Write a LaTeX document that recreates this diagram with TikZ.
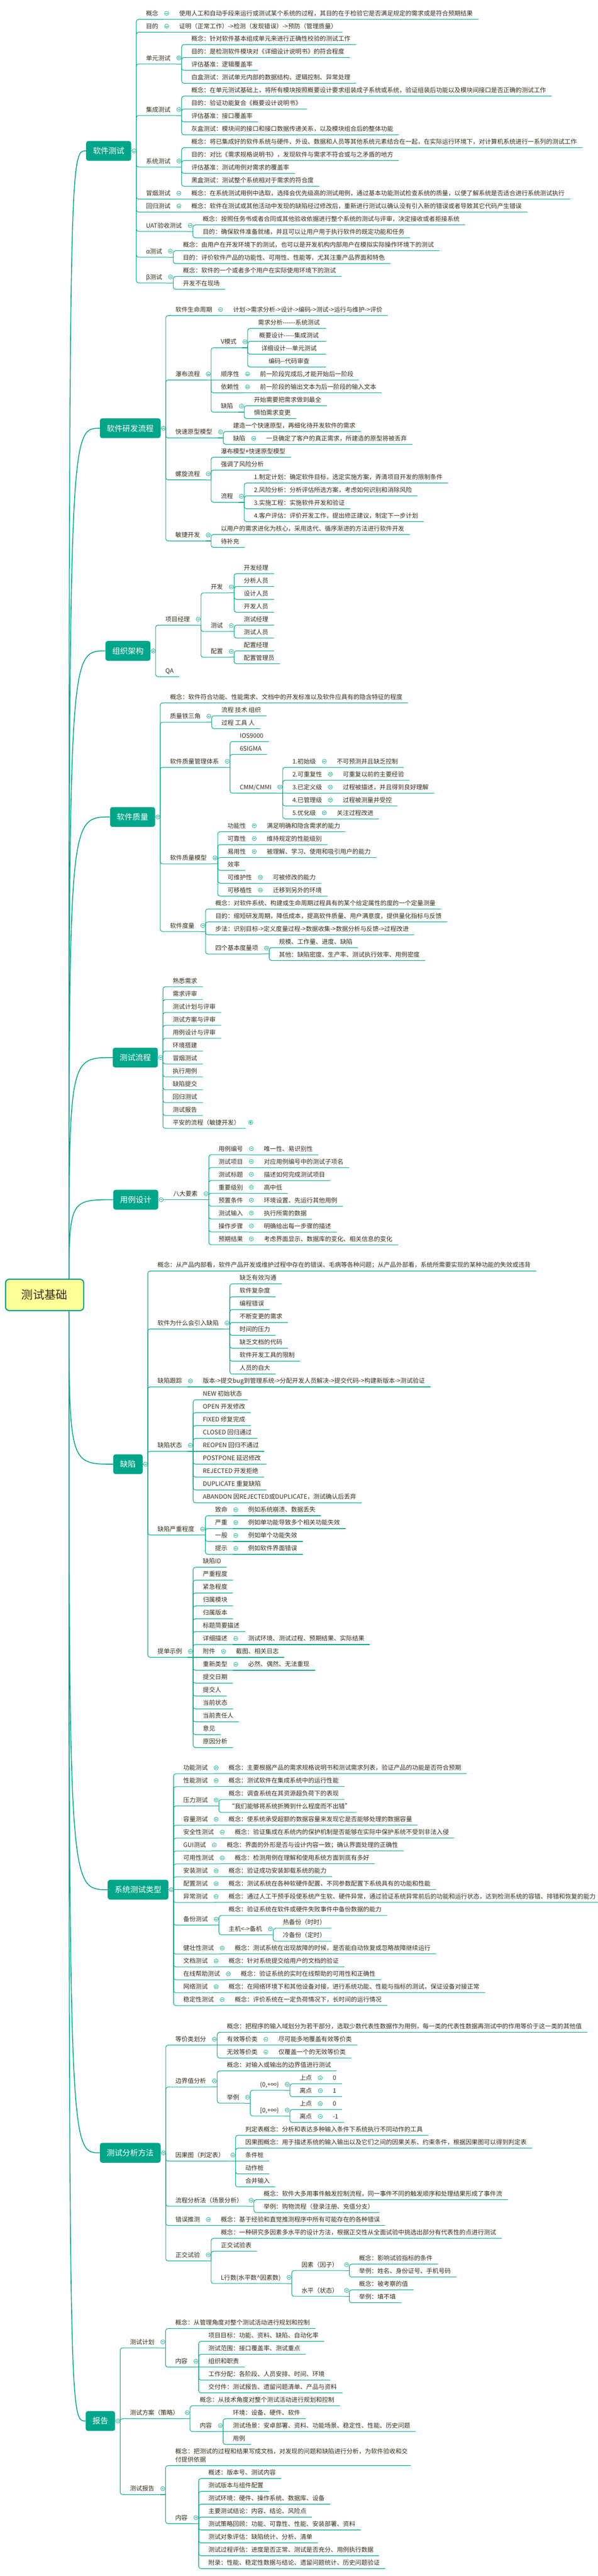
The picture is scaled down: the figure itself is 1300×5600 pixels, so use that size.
\documentclass[tikz,border=0pt]{standalone}
\usepackage{fontspec}
\setmainfont{Noto Sans CJK SC}
\usetikzlibrary{calc}
\definecolor{mint}{RGB}{0,166,138}
\definecolor{ink}{RGB}{52,46,30}
\definecolor{cream}{RGB}{255,255,153}
\pgfdeclarelayer{back}
\pgfsetlayers{back,main}

\newcommand\fold[1]{\draw[ln] (#1.south east) -- ([xshift=12pt]#1.south east) coordinate (#1-b);
	\node[fold] (#1-f) at ([xshift=6pt,yshift=13pt]#1.south east) {};}
\newcommand\foldbox[1]{\draw[ln] (#1.east) -- ([xshift=11pt]#1.east) coordinate (#1-b);
	\node[fold] (#1-f) at ([xshift=6pt]#1.east) {};}
\newcommand\kid[5][]{\node[lf,#1] (#3) at (#2-b |- 0,#4) {#5};
	\draw[ln] (#2-b) |- (#3.south east);}
\newcommand\same[5][]{\node[lf,#1] (#3) at (#2-b |- 0,#4) {#5};
	\draw[ln] (#2-b) -- (#3.south east);}

\begin{document}
\begin{tikzpicture}[x=1pt,y=-1pt]

	\tikzset{
		ln/.style={mint, line width=1.2pt, rounded corners=5pt},
		lf/.style={anchor=south west, inner xsep=12pt, inner ysep=0pt, xshift=9pt,
			text depth=7.7pt, text=ink, font=\fontsize{13.3}{18}\selectfont},
		bx/.style={anchor=west, fill=mint, text=white, rounded corners=5pt,
			inner xsep=15pt, minimum height=43pt, font=\fontsize{17}{20}\selectfont},
		fold/.style={circle, draw=mint, fill=white, line width=0.8pt, minimum size=9pt,
			inner sep=0pt, path picture={\draw[mint,line width=0.8pt]
				([xshift=-2.5pt]path picture bounding box.center) --
				([xshift=2.5pt]path picture bounding box.center);}},
		foldp/.style={circle, draw=mint, fill=white, line width=0.8pt, minimum size=9pt,
			inner sep=0pt, path picture={\draw[mint,line width=0.8pt]
				([xshift=-2.5pt]path picture bounding box.center) --
				([xshift=2.5pt]path picture bounding box.center)
				([yshift=-2.5pt]path picture bounding box.center) --
				([yshift=2.5pt]path picture bounding box.center);}},
		limb/.style={mint, line width=1.8pt},
		rootbox/.style={draw=mint, line width=2.5pt, fill=cream, rounded corners=8pt,
			minimum width=170pt, minimum height=68pt, text=ink,
			font=\fontsize{25}{30}\selectfont}
	}
	\useasboundingbox (0,0) rectangle (1300,5600);
	\begin{pgfonlayer}{back}
		\fill[white] (0,0) rectangle (1300,5600);
	\end{pgfonlayer}

	\node[rootbox] (root) at (97,2815) {测试基础};
	\coordinate (root-o) at ([xshift=53pt]root.center);

	% 软件测试
	\node[bx] (st) at (187,328) {软件测试}; \foldbox{st}
	\kid{st}{st1}{42}{概念} \fold{st1}
	\same{st1}{st1a}{42}{使用人工和自动手段来运行或测试某个系统的过程，其目的在于检验它是否满足规定的需求或是符合预期结果}
	\kid{st}{st2}{70}{目的} \fold{st2}
	\same{st2}{st2a}{70}{证明（正常工作）->检测（发现错误）->预防（管理质量）}
	\kid{st}{st3}{139}{单元测试} \fold{st3}
	\kid{st3}{st3a}{97}{概念：针对软件基本组成单元来进行正确性校验的测试工作}
	\kid{st3}{st3b}{125}{目的：是检测软件模块对《详细设计说明书》的符合程度}
	\kid{st3}{st3c}{153}{评估基准：逻辑覆盖率}
	\kid{st3}{st3d}{181}{白盒测试：测试单元内部的数据结构、逻辑控制、异常处理}
	\kid{st}{st4}{251}{集成测试} \fold{st4}
	\kid{st4}{st4a}{209}{概念：在单元测试基础上，将所有模块按照概要设计要求组装成子系统或系统，验证组装后功能以及模块间接口是否正确的测试工作}
	\kid{st4}{st4b}{237}{目的：验证功能复合《概要设计说明书》}
	\kid{st4}{st4c}{265}{评估基准：接口覆盖率}
	\kid{st4}{st4d}{293}{灰盒测试：模块间的接口和接口数据传递关系，以及模块组合后的整体功能}
	\kid{st}{st5}{363}{系统测试} \fold{st5}
	\kid{st5}{st5a}{321}{概念：将已集成好的软件系统与硬件、外设、数据和人员等其他系统元素结合在一起，在实际运行环境下，对计算机系统进行一系列的测试工作}
	\kid{st5}{st5b}{349}{目的：对比《需求规格说明书》，发现软件与需求不符合或与之矛盾的地方}
	\kid{st5}{st5c}{377}{评估基准：测试用例对需求的覆盖率}
	\kid{st5}{st5d}{405}{黑盒测试：测试整个系统相对于需求的符合度}
	\kid{st}{st6}{433}{冒烟测试} \fold{st6}
	\same{st6}{st6a}{433}{概念：在系统测试用例中选取，选择会优先级高的测试用例，通过基本功能测试检查系统的质量，以便了解系统是否适合进行系统测试执行}
	\kid{st}{st7}{461}{回归测试} \fold{st7}
	\same{st7}{st7a}{461}{概念：软件在测试或其他活动中发现的缺陷经过修改后，重新进行测试以确认没有引入新的错误或者导致其它代码产生错误}
	\kid{st}{st8}{503}{UAT验收测试} \fold{st8}
	\kid{st8}{st8a}{489}{概念：按照任务书或者合同或其他验收依据进行整个系统的测试与评审，决定接收或者拒接系统}
	\kid{st8}{st8b}{517}{目的：确保软件准备就绪，并且可以让用户用于执行软件的既定功能和任务}
	\kid{st}{st9}{559}{α测试} \fold{st9}
	\kid{st9}{st9a}{545}{概念：由用户在开发环境下的测试，也可以是开发机构内部用户在模拟实际操作环境下的测试}
	\kid{st9}{st9b}{573}{目的：评价软件产品的功能性、可用性、性能等，尤其注重产品界面和特色}
	\kid{st}{st10}{615}{β测试} \fold{st10}
	\kid{st10}{st10a}{601}{概念：软件的一个或者多个用户在实际使用环境下的测试}
	\kid{st10}{st10b}{629}{开发不在现场}

	% 软件研发流程
	\node[bx] (yf) at (217,931) {软件研发流程}; \foldbox{yf}
	\kid{yf}{yf1}{686}{软件生命周期} \fold{yf1}
	\same{yf1}{yf1a}{686}{计划->需求分析->设计->编码->测试->运行与维护->评价}
	\kid{yf}{yf2}{826}{瀑布流程} \fold{yf2}
	\kid{yf2}{yf2a}{756}{V模式} \fold{yf2a}
	\kid[text width=137pt,align=center]{yf2a}{yf2a1}{714}{需求分析-{}-{}-{}-{}-{}-系统测试}
	\kid[text width=137pt,align=center]{yf2a}{yf2a2}{742}{概要设计-{}-{}-{}-{}-集成测试}
	\kid[text width=137pt,align=center]{yf2a}{yf2a3}{770}{详细设计-{}-{}-单元测试}
	\kid[text width=137pt,align=center]{yf2a}{yf2a4}{798}{编码-{}-代码审查}
	\same{yf2}{yf2b}{826}{顺序性} \fold{yf2b}
	\same{yf2b}{yf2b1}{826}{前一阶段完成后,才能开始后一阶段}
	\kid{yf2}{yf2c}{854}{依赖性} \fold{yf2c}
	\same{yf2c}{yf2c1}{854}{前一阶段的输出文本为后一阶段的输入文本}
	\kid{yf2}{yf2d}{896}{缺陷} \fold{yf2d}
	\kid{yf2d}{yf2d1}{882}{开始需要把需求做到最全}
	\kid{yf2d}{yf2d2}{910}{惧怕需求变更}
	\kid{yf}{yf3}{952}{快速原型模型} \fold{yf3}
	\kid{yf3}{yf3a}{938}{建造一个快速原型，再细化待开发软件的需求}
	\kid{yf3}{yf3b}{966}{缺陷} \fold{yf3b}
	\same{yf3b}{yf3b1}{966}{一旦确定了客户的真正需求，所建造的原型将被丢弃}
	\kid{yf}{yf4}{1043}{螺旋流程} \fold{yf4}
	\kid{yf4}{yf4a}{994}{瀑布模型+快速原型模型}
	\kid{yf4}{yf4b}{1022}{强调了风险分析}
	\kid{yf4}{yf4c}{1092}{流程} \fold{yf4c}
	\kid{yf4c}{yf4c1}{1050}{1.制定计划：确定软件目标，选定实施方案，弄清项目开发的限制条件}
	\kid{yf4c}{yf4c2}{1078}{2.风险分析：分析评估所选方案，考虑如何识别和消除风险}
	\kid{yf4c}{yf4c3}{1106}{3.实施工程：实施软件开发和验证}
	\kid{yf4c}{yf4c4}{1134}{4.客户评估：评价开发工作，提出修正建议，制定下一步计划}
	\kid{yf}{yf5}{1176}{敏捷开发} \fold{yf5}
	\kid{yf5}{yf5a}{1162}{以用户的需求进化为核心，采用迭代、循序渐进的方法进行软件开发}
	\kid{yf5}{yf5b}{1190}{待补充}

	% 组织架构
	\node[bx] (zz) at (229,1415) {组织架构}; \foldbox{zz}
	\kid{zz}{zz1}{1359}{项目经理} \fold{zz1}
	\kid{zz1}{zz1a}{1289}{开发} \fold{zz1a}
	\kid{zz1a}{zz1a1}{1247}{开发经理}
	\kid{zz1a}{zz1a2}{1275}{分析人员}
	\kid{zz1a}{zz1a3}{1303}{设计人员}
	\kid{zz1a}{zz1a4}{1331}{开发人员}
	\kid{zz1}{zz1b}{1373}{测试} \fold{zz1b}
	\kid{zz1b}{zz1b1}{1359}{测试经理}
	\kid{zz1b}{zz1b2}{1387}{测试人员}
	\kid{zz1}{zz1c}{1429}{配置} \fold{zz1c}
	\kid{zz1c}{zz1c1}{1415}{配置经理}
	\kid{zz1c}{zz1c2}{1443}{配置管理员}
	\kid{zz}{zz2}{1471}{QA}

	% 软件质量
	\node[bx] (zl) at (239,1776) {软件质量}; \foldbox{zl}
	\kid{zl}{zl1}{1528}{概念：软件符合功能、性能需求、文档中的开发标准以及软件应具有的隐含特征的程度}
	\kid{zl}{zl2}{1570}{质量铁三角} \fold{zl2}
	\kid{zl2}{zl2a}{1556}{流程 技术 组织}
	\kid{zl2}{zl2b}{1584}{过程 工具 人}
	\kid{zl}{zl3}{1668}{软件质量管理体系} \fold{zl3}
	\kid{zl3}{zl3a}{1612}{IOS9000}
	\kid{zl3}{zl3b}{1640}{6SIGMA}
	\kid{zl3}{zl3c}{1724}{CMM/CMMI} \fold{zl3c}
	\kid{zl3c}{zl3c1}{1668}{1.初始级} \fold{zl3c1}
	\same{zl3c1}{zl3c1a}{1668}{不可预测并且缺乏控制}
	\kid{zl3c}{zl3c2}{1696}{2.可重复性} \fold{zl3c2}
	\same{zl3c2}{zl3c2a}{1696}{可重复以前的主要经验}
	\same{zl3c}{zl3c3}{1724}{3.已定义级} \fold{zl3c3}
	\same{zl3c3}{zl3c3a}{1724}{过程被描述，并且得到良好理解}
	\kid{zl3c}{zl3c4}{1752}{4.已管理级} \fold{zl3c4}
	\same{zl3c4}{zl3c4a}{1752}{过程被测量并受控}
	\kid{zl3c}{zl3c5}{1780}{5.优化级} \fold{zl3c5}
	\same{zl3c5}{zl3c5a}{1780}{关注过程改进}
	\kid{zl}{zl4}{1878}{软件质量模型} \fold{zl4}
	\kid{zl4}{zl4a}{1808}{功能性} \fold{zl4a}
	\same{zl4a}{zl4a1}{1808}{满足明确和隐含需求的能力}
	\kid{zl4}{zl4b}{1836}{可靠性} \fold{zl4b}
	\same{zl4b}{zl4b1}{1836}{维持规定的性能级别}
	\kid{zl4}{zl4c}{1864}{易用性} \fold{zl4c}
	\same{zl4c}{zl4c1}{1864}{被理解、学习、使用和吸引用户的能力}
	\kid{zl4}{zl4d}{1892}{效率}
	\kid{zl4}{zl4e}{1920}{可维护性} \fold{zl4e}
	\same{zl4e}{zl4e1}{1920}{可被修改的能力}
	\kid{zl4}{zl4f}{1948}{可移植性} \fold{zl4f}
	\same{zl4f}{zl4f1}{1948}{迁移到另外的环境}
	\kid{zl}{zl5}{2025}{软件度量} \fold{zl5}
	\kid{zl5}{zl5a}{1976}{概念：对软件系统、构建或生命周期过程具有的某个给定属性的度的一个定量测量}
	\kid{zl5}{zl5b}{2004}{目的：缩短研发周期，降低成本，提高软件质量、用户满意度，提供量化指标与反馈}
	\kid{zl5}{zl5c}{2032}{步法：识别目标->定义度量过程->数据收集->数据分析与反馈->过程改进}
	\kid{zl5}{zl5d}{2074}{四个基本度量项} \fold{zl5d}
	\kid{zl5d}{zl5d1}{2060}{规模、工作量、进度、缺陷}
	\kid{zl5d}{zl5d2}{2088}{其他：缺陷密度、生产率、测试执行效率、用例密度}

	% 测试流程
	\node[bx] (lc) at (245,2299) {测试流程}; \foldbox{lc}
	\kid{lc}{lc1}{2145}{熟悉需求}
	\kid{lc}{lc2}{2173}{需求评审}
	\kid{lc}{lc3}{2201}{测试计划与评审}
	\kid{lc}{lc4}{2229}{测试方案与评审}
	\kid{lc}{lc5}{2257}{用例设计与评审}
	\kid{lc}{lc6}{2285}{环境搭建}
	\kid{lc}{lc7}{2313}{冒烟测试}
	\kid{lc}{lc8}{2341}{执行用例}
	\kid{lc}{lc9}{2369}{缺陷提交}
	\kid{lc}{lc10}{2397}{回归测试}
	\kid{lc}{lc11}{2425}{测试报告}
	\kid{lc}{lc12}{2453}{平安的流程（敏捷开发）}
	\node[foldp] (lc12-f) at ([xshift=11pt,yshift=13pt]lc12.south east) {};

	% 用例设计
	\node[bx] (yl) at (246,2608) {用例设计}; \foldbox{yl}
	\same{yl}{yl1}{2608}{八大要素} \fold{yl1}
	\kid{yl1}{yl1a}{2510}{用例编号} \fold{yl1a}
	\same{yl1a}{yl1a1}{2510}{唯一性、易识别性}
	\kid{yl1}{yl1b}{2538}{测试项目} \fold{yl1b}
	\same{yl1b}{yl1b1}{2538}{对应用例编号中的测试子项名}
	\kid{yl1}{yl1c}{2566}{测试标题} \fold{yl1c}
	\same{yl1c}{yl1c1}{2566}{描述如何完成测试项目}
	\kid{yl1}{yl1d}{2594}{重要级别} \fold{yl1d}
	\same{yl1d}{yl1d1}{2594}{高中低}
	\kid{yl1}{yl1e}{2622}{预置条件} \fold{yl1e}
	\same{yl1e}{yl1e1}{2622}{环境设置、先运行其他用例}
	\kid{yl1}{yl1f}{2650}{测试输入} \fold{yl1f}
	\same{yl1f}{yl1f1}{2650}{执行所需的数据}
	\kid{yl1}{yl1g}{2678}{操作步骤} \fold{yl1g}
	\same{yl1g}{yl1g1}{2678}{明确给出每一步骤的描述}
	\kid{yl1}{yl1h}{2706}{预期结果} \fold{yl1h}
	\same{yl1h}{yl1h1}{2706}{考虑界面显示、数据库的变化、相关信息的变化}

	% 缺陷
	\node[bx] (qx) at (246,3183) {缺陷}; \foldbox{qx}
	\kid{qx}{qx1}{2763}{概念：从产品内部看，软件产品开发或维护过程中存在的错误、毛病等各种问题；从产品外部看，系统所需要实现的某种功能的失效或违背}
	\kid{qx}{qx2}{2889}{软件为什么会引入缺陷} \fold{qx2}
	\kid{qx2}{qx2a}{2791}{缺乏有效沟通}
	\kid{qx2}{qx2b}{2819}{软件复杂度}
	\kid{qx2}{qx2c}{2847}{编程错误}
	\kid{qx2}{qx2d}{2875}{不断变更的需求}
	\kid{qx2}{qx2e}{2903}{时间的压力}
	\kid{qx2}{qx2f}{2931}{缺乏文档的代码}
	\kid{qx2}{qx2g}{2959}{软件开发工具的限制}
	\kid{qx2}{qx2h}{2987}{人员的自大}
	\kid{qx}{qx3}{3015}{缺陷跟踪} \fold{qx3}
	\same{qx3}{qx3a}{3015}{版本->提交bug到管理系统->分配开发人员解决->提交代码->构建新版本->测试验证}
	\kid{qx}{qx4}{3155}{缺陷状态} \fold{qx4}
	\kid{qx4}{qx4a}{3043}{NEW 初始状态}
	\kid{qx4}{qx4b}{3071}{OPEN 开发修改}
	\kid{qx4}{qx4c}{3099}{FIXED 修复完成}
	\kid{qx4}{qx4d}{3127}{CLOSED 回归通过}
	\same{qx4}{qx4e}{3155}{REOPEN 回归不通过}
	\kid{qx4}{qx4f}{3183}{POSTPONE 延迟修改}
	\kid{qx4}{qx4g}{3211}{REJECTED 开发拒绝}
	\kid{qx4}{qx4h}{3239}{DUPLICATE 重复缺陷}
	\kid{qx4}{qx4i}{3267}{ABANDON 因REJECTED或DUPLICATE，测试确认后丢弃}
	\kid{qx}{qx5}{3337}{缺陷严重程度} \fold{qx5}
	\kid{qx5}{qx5a}{3295}{致命} \fold{qx5a}
	\same{qx5a}{qx5a1}{3295}{例如系统崩溃、数据丢失}
	\kid{qx5}{qx5b}{3323}{严重} \fold{qx5b}
	\same{qx5b}{qx5b1}{3323}{例如单功能导致多个相关功能失效}
	\kid{qx5}{qx5c}{3351}{一般} \fold{qx5c}
	\same{qx5c}{qx5c1}{3351}{例如单个功能失效}
	\kid{qx5}{qx5d}{3379}{提示} \fold{qx5d}
	\same{qx5d}{qx5d1}{3379}{例如软件界面错误}
	\kid{qx}{qx6}{3603}{提单示例} \fold{qx6}
	\kid{qx6}{qx6a}{3407}{缺陷ID}
	\kid{qx6}{qx6b}{3435}{严重程度}
	\kid{qx6}{qx6c}{3463}{紧急程度}
	\kid{qx6}{qx6d}{3491}{归属模块}
	\kid{qx6}{qx6e}{3519}{归属版本}
	\kid{qx6}{qx6f}{3547}{标题简要描述}
	\kid{qx6}{qx6g}{3575}{详细描述} \fold{qx6g}
	\same{qx6g}{qx6g1}{3575}{测试环境、测试过程、预期结果、实际结果}
	\same{qx6}{qx6h}{3603}{附件} \fold{qx6h}
	\same{qx6h}{qx6h1}{3603}{截图、相关日志}
	\kid{qx6}{qx6i}{3631}{重新类型} \fold{qx6i}
	\same{qx6i}{qx6i1}{3631}{必然、偶然、无法重现}
	\kid{qx6}{qx6j}{3659}{提交日期}
	\kid{qx6}{qx6k}{3687}{提交人}
	\kid{qx6}{qx6l}{3715}{当前状态}
	\kid{qx6}{qx6m}{3743}{当前责任人}
	\kid{qx6}{qx6n}{3771}{意见}
	\kid{qx6}{qx6o}{3799}{原因分析}

	% 系统测试类型
	\node[bx] (xt) at (234,4108) {系统测试类型}; \foldbox{xt}
	\kid{xt}{xt1}{3856}{功能测试} \fold{xt1}
	\same{xt1}{xt1a}{3856}{概念：主要根据产品的需求规格说明书和测试需求列表，验证产品的功能是否符合预期}
	\kid{xt}{xt2}{3884}{性能测试} \fold{xt2}
	\same{xt2}{xt2a}{3884}{概念：测试软件在集成系统中的运行性能}
	\kid{xt}{xt3}{3926}{压力测试} \fold{xt3}
	\kid{xt3}{xt3a}{3912}{概念：调查系统在其资源超负荷下的表现}
	\kid{xt3}{xt3b}{3940}{“我们能够将系统折腾到什么程度而不出错”}
	\kid{xt}{xt4}{3968}{容量测试} \fold{xt4}
	\same{xt4}{xt4a}{3968}{概念：使系统承受超额的数据容量来发现它是否能够处理的数据容量}
	\kid{xt}{xt5}{3996}{安全性测试} \fold{xt5}
	\same{xt5}{xt5a}{3996}{概念：验证集成在系统内的保护机制是否能够在实际中保护系统不受到非法入侵}
	\kid{xt}{xt6}{4024}{GUI测试} \fold{xt6}
	\same{xt6}{xt6a}{4024}{概念：界面的外形是否与设计内容一致；确认界面处理的正确性}
	\kid{xt}{xt7}{4052}{可用性测试} \fold{xt7}
	\same{xt7}{xt7a}{4052}{概念：检测用例在理解和使用系统方面到底有多好}
	\kid{xt}{xt8}{4080}{安装测试} \fold{xt8}
	\same{xt8}{xt8a}{4080}{概念：验证成功安装卸载系统的能力}
	\same{xt}{xt9}{4108}{配置测试} \fold{xt9}
	\same{xt9}{xt9a}{4108}{概念：测试系统在各种软硬件配置、不同参数配置下系统具有的功能和性能}
	\kid{xt}{xt10}{4136}{异常测试} \fold{xt10}
	\same{xt10}{xt10a}{4136}{概念：通过人工干预手段使系统产生软、硬件异常，通过验证系统异常前后的功能和运行状态，达到检测系统的容错、排错和恢复的能力}
	\kid{xt}{xt11}{4185}{备份测试} \fold{xt11}
	\kid{xt11}{xt11a}{4164}{概念：验证系统在软件或硬件失败事件中备份数据的能力}
	\kid{xt11}{xt11b}{4206}{主机<->备机} \fold{xt11b}
	\kid{xt11b}{xt11b1}{4192}{热备份（时时）}
	\kid{xt11b}{xt11b2}{4220}{冷备份（定时）}
	\kid{xt}{xt12}{4248}{健壮性测试} \fold{xt12}
	\same{xt12}{xt12a}{4248}{概念：测试系统在出现故障的时候，是否能自动恢复或忽略故障继续运行}
	\kid{xt}{xt13}{4276}{文档测试} \fold{xt13}
	\same{xt13}{xt13a}{4276}{概念：针对系统提交给用户的文档的验证}
	\kid{xt}{xt14}{4304}{在线帮助测试} \fold{xt14}
	\same{xt14}{xt14a}{4304}{概念：验证系统的实时在线帮助的可用性和正确性}
	\kid{xt}{xt15}{4332}{网络测试} \fold{xt15}
	\same{xt15}{xt15a}{4332}{概念：在网络环境下和其他设备对接，进行系统功能、性能与指标的测试，保证设备对接正常}
	\kid{xt}{xt16}{4360}{稳定性测试} \fold{xt16}
	\same{xt16}{xt16a}{4360}{概念：评价系统在一定负荷情况下，长时间的运行情况}

	% 测试分析方法
	\node[bx] (fx) at (217,4680) {测试分析方法}; \foldbox{fx}
	\kid{fx}{fx1}{4446}{等价类划分} \fold{fx1}
	\kid{fx1}{fx1a}{4418}{概念：把程序的输入域划分为若干部分，选取少数代表性数据作为用例，每一类的代表性数据再测试中的作用等价于这一类的其他值}
	\same{fx1}{fx1b}{4446}{有效等价类} \fold{fx1b}
	\same{fx1b}{fx1b1}{4446}{尽可能多地覆盖有效等价类}
	\kid{fx1}{fx1c}{4474}{无效等价类} \fold{fx1c}
	\same{fx1c}{fx1c1}{4474}{仅覆盖一个的无效等价类}
	\kid{fx}{fx2}{4537}{边界值分析} \fold{fx2}
	\kid{fx2}{fx2a}{4502}{概念：对输入或输出的边界值进行测试}
	\kid{fx2}{fx2b}{4572}{举例} \fold{fx2b}
	\kid{fx2b}{fx2b1}{4544}{(0,+∞)} \fold{fx2b1}
	\kid{fx2b1}{fx2b1a}{4530}{上点} \fold{fx2b1a}
	\same{fx2b1a}{fx2b1a1}{4530}{0}
	\kid{fx2b1}{fx2b1b}{4558}{离点} \fold{fx2b1b}
	\same{fx2b1b}{fx2b1b1}{4558}{1}
	\kid{fx2b}{fx2b2}{4600}{[0,+∞)} \fold{fx2b2}
	\kid{fx2b2}{fx2b2a}{4586}{上点} \fold{fx2b2a}
	\same{fx2b2a}{fx2b2a1}{4586}{0}
	\kid{fx2b2}{fx2b2b}{4614}{离点} \fold{fx2b2b}
	\same{fx2b2b}{fx2b2b1}{4614}{-1}
	\kid{fx}{fx3}{4698}{因果图（判定表）} \fold{fx3}
	\kid{fx3}{fx3a}{4642}{判定表概念：分析和表达多种输入条件下系统执行不同动作的工具}
	\kid{fx3}{fx3b}{4670}{因果图概念：用于描述系统的输入输出以及它们之间的因果关系、约束条件，根据因果图可以得到判定表}
	\same{fx3}{fx3c}{4698}{条件桩}
	\kid{fx3}{fx3d}{4726}{动作桩}
	\kid{fx3}{fx3e}{4754}{合并输入}
	\kid{fx}{fx4}{4796}{流程分析法（场景分析）} \fold{fx4}
	\kid{fx4}{fx4a}{4782}{概念：软件大多用事件触发控制流程，同一事件不同的触发顺序和处理结果形成了事件流}
	\kid{fx4}{fx4b}{4810}{举例：购物流程（登录注册、充值分支）}
	\kid{fx}{fx5}{4838}{错误推测} \fold{fx5}
	\same{fx5}{fx5a}{4838}{概念：基于经验和直觉推测程序中所有可能存在的各种错误}
	\kid{fx}{fx6}{4915}{正交试验} \fold{fx6}
	\kid{fx6}{fx6a}{4866}{概念：一种研究多因素多水平的设计方法，根据正交性从全面试验中挑选出部分有代表性的点进行测试}
	\kid{fx6}{fx6b}{4894}{正交试验表}
	\kid{fx6}{fx6c}{4964}{L行数(水平数\textasciicircum 因素数)} \fold{fx6c}
	\kid{fx6c}{fx6c1}{4936}{因素（因子）} \fold{fx6c1}
	\kid{fx6c1}{fx6c1a}{4922}{概念：影响试验指标的条件}
	\kid{fx6c1}{fx6c1b}{4950}{举例：姓名、身份证号、手机号码}
	\kid{fx6c}{fx6c2}{4992}{水平（状态）} \fold{fx6c2}
	\kid{fx6c2}{fx6c2a}{4978}{概念：被考察的值}
	\kid{fx6c2}{fx6c2b}{5006}{举例：填不填}

	% 报告
	\node[bx] (bg) at (186,5263) {报告}; \foldbox{bg}
	\kid{bg}{bg1}{5104}{测试计划} \fold{bg1}
	\kid{bg1}{bg1a}{5062}{概念：从管理角度对整个测试活动进行规划和控制}
	\kid{bg1}{bg1b}{5146}{内容} \fold{bg1b}
	\kid{bg1b}{bg1b1}{5090}{项目目标：功能、资料、缺陷、自动化率}
	\kid{bg1b}{bg1b2}{5118}{测试范围：接口覆盖率、测试重点}
	\same{bg1b}{bg1b3}{5146}{组织和职责}
	\kid{bg1b}{bg1b4}{5174}{工作分配：各阶段、人员安排、时间、环境}
	\kid{bg1b}{bg1b5}{5202}{交付件：测试报告、遗留问题清单、产品与资料}
	\kid{bg}{bg2}{5258}{测试方案（策略）} \fold{bg2}
	\kid{bg2}{bg2a}{5230}{概念：从技术角度对整个测试活动进行规划和控制}
	\kid{bg2}{bg2b}{5286}{内容} \fold{bg2b}
	\kid{bg2b}{bg2b1}{5258}{环境：设备、硬件、软件}
	\same{bg2b}{bg2b2}{5286}{测试场景：安卓部署、资料、功能场景、稳定性、性能、历史问题}
	\kid{bg2b}{bg2b3}{5314}{用例}
	\kid{bg}{bg3}{5423}{测试报告} \fold{bg3}
	\kid{bg3}{bg3a}{5360}{\parbox[b]{500pt}{概念：把测试的过程和结果写成文档，对发现的问题和缺陷进行分析，为软件验收和交\\付提供依据}}
	\kid{bg3}{bg3b}{5486}{内容} \fold{bg3b}
	\kid{bg3b}{bg3b1}{5388}{概述：版本号、测试内容}
	\kid{bg3b}{bg3b2}{5416}{测试版本与组件配置}
	\kid{bg3b}{bg3b3}{5444}{测试环境：硬件、操作系统、数据库、设备}
	\kid{bg3b}{bg3b4}{5472}{主要测试结论：内容、结论、风险点}
	\kid{bg3b}{bg3b5}{5500}{测试策略回顾：功能、可靠性、性能、安装部署、资料}
	\kid{bg3b}{bg3b6}{5528}{测试对象评估：缺陷统计、分析、清单}
	\kid{bg3b}{bg3b7}{5556}{测试过程评估：进度是否正常、测试是否充分、用例执行数据}
	\kid{bg3b}{bg3b8}{5584}{附录：性能、稳定性数据与结论、遗留问题统计、历史问题验证}

	\begin{pgfonlayer}{back}
		\draw[limb] (root-o) .. controls (root-o |- st.west) .. (st.west);
		\draw[limb] (root-o) .. controls (root-o |- yf.west) .. (yf.west);
		\draw[limb] (root-o) .. controls (root-o |- zz.west) .. (zz.west);
		\draw[limb] (root-o) .. controls (root-o |- zl.west) .. (zl.west);
		\draw[limb] (root-o) .. controls (root-o |- lc.west) .. (lc.west);
		\draw[limb] (root-o) .. controls (root-o |- yl.west) .. (yl.west);
		\draw[limb] (root-o) .. controls (root-o |- qx.west) .. (qx.west);
		\draw[limb] (root-o) .. controls (root-o |- xt.west) .. (xt.west);
		\draw[limb] (root-o) .. controls (root-o |- fx.west) .. (fx.west);
		\draw[limb] (root-o) .. controls (root-o |- bg.west) .. (bg.west);
	\end{pgfonlayer}
\end{tikzpicture}
\end{document}
